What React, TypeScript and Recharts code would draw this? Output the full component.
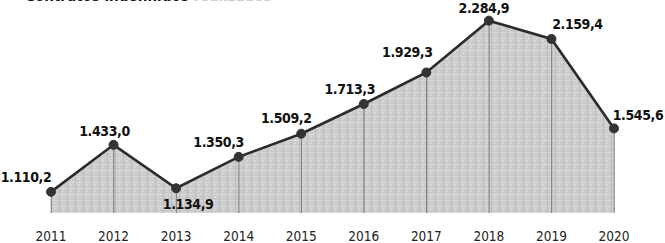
import { Area, Bar, ComposedChart, LabelList, XAxis, YAxis } from "recharts";

const YEARS = ["2011", "2012", "2013", "2014", "2015", "2016", "2017", "2018", "2019", "2020"];
const CONTRATOS = [1110.2, 1433.0, 1134.9, 1350.3, 1509.2, 1713.3, 1929.3, 2284.9, 2159.4, 1545.6];

const W = 665;
const H = 243;
const FONT = '"DejaVu Sans Condensed", "Liberation Sans", sans-serif';

// where each value label sits relative to its point (dx, dy)
const LABEL_OFFSETS: [number, number][] = [
  [-25, -15], [-9, -14], [12, 16], [-20, -15], [-15, -16],
  [-14, -15], [-19, -20], [-5, -13], [26, -15], [24, -13],
];

const fmt = (v: number) => {
  const [int, dec] = v.toFixed(1).split(".");
  return `${int.replace(/\B(?=(\d{3})+(?!\d))/g, ".")},${dec}`;
};

function ValueLabel(props: any) {
  const { x, y, value, index } = props;
  const [dx, dy] = LABEL_OFFSETS[index] ?? [0, -14];
  return (
    <text
      x={x + dx}
      y={y + dy}
      textAnchor="middle"
      dominantBaseline="central"
      fill="#111"
      fontFamily={FONT}
      fontWeight={700}
      fontSize={14}
      letterSpacing={-0.4}
    >
      {fmt(value)}
    </text>
  );
}

export default function App() {
  const rows = YEARS.map((year, i) => ({ year, value: CONTRATOS[i] }));

  return (
    <div style={{ position: "absolute", left: 0, top: 0, width: W, height: H, background: "#fff", overflow: "hidden" }}>
      <div
        style={{
          position: "absolute",
          left: 25,
          top: -11,
          fontFamily: FONT,
          fontWeight: 700,
          fontSize: 15,
          lineHeight: "15px",
          color: "#111",
          whiteSpace: "nowrap",
        }}
      >
        Contratos indefinidos <span style={{ color: "#c8c8c8" }}>realizados</span>
      </div>

      <svg width="0" height="0" style={{ position: "absolute" }}>
        <defs>
          <pattern id="paper" width={8} height={6} patternUnits="userSpaceOnUse">
            <rect width={8} height={6} fill="#cbcbcb" />
            <rect x={0} y={2} width={8} height={1} fill="#dadada" />
            <rect x={3} y={0} width={1} height={6} fill="#bdbdbd" />
            <rect x={6} y={4} width={2} height={2} fill="#d6d6d6" />
          </pattern>
        </defs>
      </svg>

      <ComposedChart
        width={W}
        height={H}
        data={rows}
        margin={{ top: 1, right: 51, bottom: 0, left: 51 }}
      >
        <XAxis
          dataKey="year"
          scale="point"
          axisLine={false}
          tickLine={false}
          tickMargin={12}
          height={30}
          interval={0}
          tick={{ fill: "#222", fontSize: 13.5, fontFamily: FONT }}
        />
        <YAxis hide type="number" domain={[965, 2420]} allowDataOverflow />
        <Area
          type="linear"
          dataKey="value"
          fill="url(#paper)"
          fillOpacity={1}
          stroke="#2b2b2b"
          strokeWidth={2.6}
          dot={{ r: 4.5, fill: "#333", stroke: "#333", strokeWidth: 1 }}
          activeDot={false}
          isAnimationActive={false}
        >
          <LabelList dataKey="value" content={<ValueLabel />} />
        </Area>
        <Bar dataKey="value" barSize={1} fill="#7a7a7a" isAnimationActive={false} />
      </ComposedChart>
    </div>
  );
}
